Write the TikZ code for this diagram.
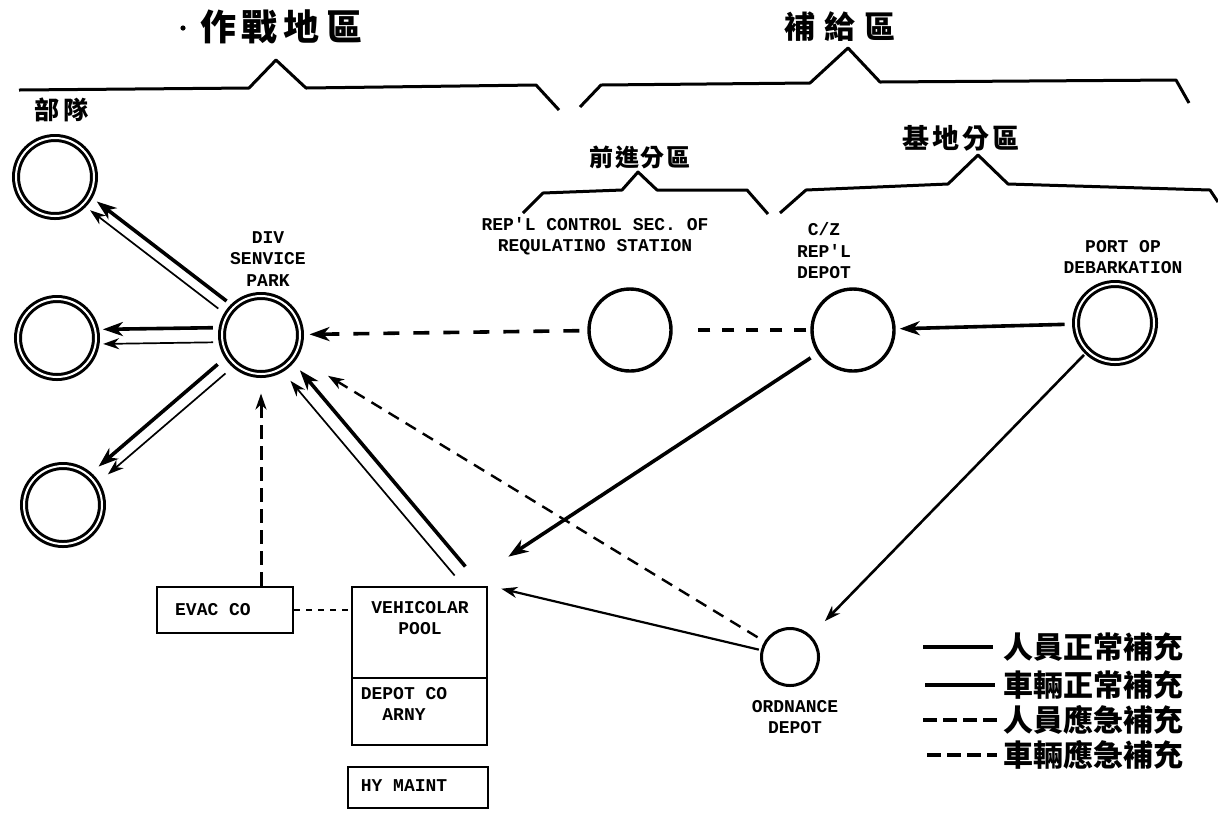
\documentclass[tikz,border=0pt]{standalone}
\usepackage{fontspec}
\newfontfamily\cjk{Noto Sans CJK TC}
\newfontfamily\tw{Liberation Mono}
\usetikzlibrary{arrows.meta,calc}
\begin{document}
\begin{tikzpicture}[x=0.5pt,y=-0.5pt,
  dring/.style={circle,draw,line width=1.5pt,double,double distance=1pt,minimum size=39pt,inner sep=0pt},
  sring/.style={circle,draw,line width=1.7pt,minimum size=41pt,inner sep=0pt},
  lbl/.style={font=\tw\bfseries\fontsize{9}{10.75}\selectfont,align=center,inner sep=0pt},
  boxn/.style={draw,line width=1.3pt,inner sep=0pt},
  cjkt/.style={inner sep=0pt},
  thk/.style={line width=1.8pt},
  thn/.style={line width=0.85pt},
  tipA/.style={-{Stealth[length=10pt,width=7pt,inset=3pt]}},
  tipB/.style={-{Stealth[length=8pt,width=5.5pt,inset=2.5pt]}},
  dashA/.style={dash pattern=on 8pt off 7pt},
  dashC/.style={dash pattern=on 6pt off 6pt},
  dashB/.style={dash pattern=on 6pt off 4pt},
  brace/.style={line width=1.5pt,line join=round}
]
\fill[white] (0,0) rectangle (1218,816);
\useasboundingbox (0,0) rectangle (1218,816);

% titles
\fill (183,28) circle (1.3pt);
\node[cjkt,font=\cjk\bfseries\fontsize{18}{19}\selectfont] (t1) at (281,27) {作\hspace{3pt}戰\hspace{3pt}地\hspace{3pt}區};
\node[cjkt,font=\cjk\bfseries\fontsize{15.5}{16}\selectfont] (t2) at (840,27) {補\hspace{4.5pt}給\hspace{4.5pt}區};
\node[cjkt,font=\cjk\bfseries\fontsize{12}{13}\selectfont] (t3) at (640,157) {前\hspace{0.8pt}進\hspace{0.8pt}分\hspace{0.8pt}區};
\node[cjkt,font=\cjk\bfseries\fontsize{13.5}{14}\selectfont] (t4) at (961,138) {基\hspace{1.5pt}地\hspace{1.5pt}分\hspace{1.5pt}區};
\node[cjkt,font=\cjk\bfseries\fontsize{12.5}{13}\selectfont] (t5) at (61,110) {部\hspace{2pt}隊};

% braces
\draw[brace] (19,90) -- (249,88) -- (276,60) -- (306,88) -- (536,85) -- (559,110);
\draw[brace] (580,107) -- (601,85) -- (810,83) -- (848,48) -- (880,82) -- (1176,80) -- (1189,103);
\draw[brace] (523,213) -- (543,193) -- (622,190) -- (638,172) -- (657,190) -- (747,190) -- (768,214);
\draw[brace] (780,213) -- (806,190) -- (948,184) -- (978,155) -- (1008,184) -- (1210,190) -- (1218,202);

% circles
\node[dring] (u1) at (55,177) {};
\node[dring] (u2) at (57,338) {};
\node[dring] (u3) at (63,505) {};
\node[dring] (dsp) at (261,335) {};
\node[sring] (rcs) at (630,330) {};
\node[sring] (cz) at (853,330) {};
\node[dring] (pod) at (1115,323) {};
\node[sring,minimum size=28.5pt,line width=1.5pt] (ord) at (790,657) {};

% labels
\node[lbl] (ldsp) at (268,259) {DIV\\SENVICE\\PARK};
\node[lbl] (lrcs) at (595,236) {REP'L CONTROL SEC. OF\\REQULATINO STATION};
\node[lbl] (lcz) at (824,251) {C/Z\\REP'L\\DEPOT};
\node[lbl] (lpod) at (1123,257) {PORT OP\\DEBARKATION};
\node[lbl] (lord) at (795,717) {ORDNANCE\\DEPOT};

% boxes
\node[boxn,minimum width=68pt,minimum height=23pt] (evac) at (225,610) {};
\node[lbl] (evact) at (213,610) {EVAC CO};
\node[boxn,minimum width=67.5pt,minimum height=45.5pt] (pool) at (419.5,632.5) {};
\node[lbl] (poolt) at (420,618) {VEHICOLAR\\POOL};
\node[boxn,minimum width=67.5pt,minimum height=33.5pt] (depot) at (419.5,711.5) {};
\node[lbl] (depott) at (404,704) {DEPOT CO\\ARNY};
\node[boxn,minimum width=70pt,minimum height=20.5pt] (hy) at (418,787.5) {};
\node[lbl] (hyt) at (404,786) {HY MAINT};

\coordinate (pv) at (460,571);
\coordinate (czin) at ($(pool.north east)+(20,-29)$);
\coordinate (ordin) at ($(pool.north east)+(13,3)$);

% DSP to units
\draw[thk,tipA] ($(dsp)!24pt!(u1)!3pt!-90:(u1)$) -- ($(u1)!24pt!(dsp)!3pt!90:(dsp)$);
\draw[thn,tipB] ($(dsp)!25pt!(u1)!2.5pt!90:(u1)$) -- ($(u1)!24pt!(dsp)!2.5pt!-90:(dsp)$);
\draw[thk,tipA] ($(dsp)!24pt!(u2)!4pt!-90:(u2)$) -- ($(u2)!23pt!(dsp)!4pt!90:(dsp)$);
\draw[thn,tipB] ($(dsp)!24pt!(u2)!3.3pt!90:(u2)$) -- ($(u2)!23pt!(dsp)!3.3pt!-90:(dsp)$);
\draw[thk,tipA] ($(dsp)!26pt!(u3)!3pt!-90:(u3)$) -- ($(u3)!26pt!(dsp)!3pt!90:(dsp)$);
\draw[thn,tipB] ($(dsp)!26pt!(u3)!3pt!90:(u3)$) -- ($(u3)!27pt!(dsp)!3pt!-90:(dsp)$);

% pool to DSP
\draw[thk,tipA] ($(pv)!3.5pt!-90:(dsp)$) -- ($(dsp)!26pt!(pv)!3.5pt!90:(pv)$);
\draw[thn,tipB] ($(pv)!3.5pt!90:(dsp)$) -- ($(dsp)!27pt!(pv)!3.5pt!-90:(pv)$);

% supply lines
\draw[thk,dashA,tipA,shorten <=4pt,shorten >=4pt] (rcs) -- (dsp);
\draw[thk,dashC,shorten <=2pt,shorten >=7pt] (cz) -- (rcs);
\draw[thk,tipA,shorten <=5pt,shorten >=2pt] (pod) -- (cz);
\draw[thk,tipA,shorten <=4pt] (cz) -- (czin);
\draw[line width=1.3pt,tipB,shorten <=2pt,shorten >=10pt] (pod) -- (ord);
\draw[line width=1.2pt,dashB,tipB,shorten <=4pt,shorten >=19pt] (ord) -- (dsp);
\draw[line width=1.1pt,tipB,shorten <=1pt] (ord) -- (ordin);
\draw[line width=1.5pt,dash pattern=on 7pt off 3.5pt,tipB,shorten >=9pt] (dsp |- evac.north) -- (dsp.south);
\draw[line width=1.1pt,dash pattern=on 3pt off 3pt] (evac.east) -- (evac.east -| pool.west);

% legend
\node[cjkt,anchor=west,font=\cjk\bfseries\fontsize{15}{15}\selectfont] (lg1) at (1003,647) {人員正常補充};
\node[cjkt,anchor=west,font=\cjk\bfseries\fontsize{15}{15}\selectfont] (lg2) at (1003,685) {車輛正常補充};
\node[cjkt,anchor=west,font=\cjk\bfseries\fontsize{15}{15}\selectfont] (lg3) at (1003,720) {人員應急補充};
\node[cjkt,anchor=west,font=\cjk\bfseries\fontsize{15}{15}\selectfont] (lg4) at (1003,755) {車輛應急補充};
\draw[line width=2.4pt] ($(lg1.west)+(-80,0)$) -- ($(lg1.west)+(-10,0)$);
\draw[line width=1.9pt] ($(lg2.west)+(-78,0)$) -- ($(lg2.west)+(-8,0)$);
\draw[line width=2.4pt,dash pattern=on 7pt off 3pt] ($(lg3.west)+(-80,0)$) -- ($(lg3.west)+(-6,0)$);
\draw[line width=1.7pt,dash pattern=on 7pt off 3pt] ($(lg4.west)+(-76,0)$) -- ($(lg4.west)+(-6,0)$);
\end{tikzpicture}
\end{document}
